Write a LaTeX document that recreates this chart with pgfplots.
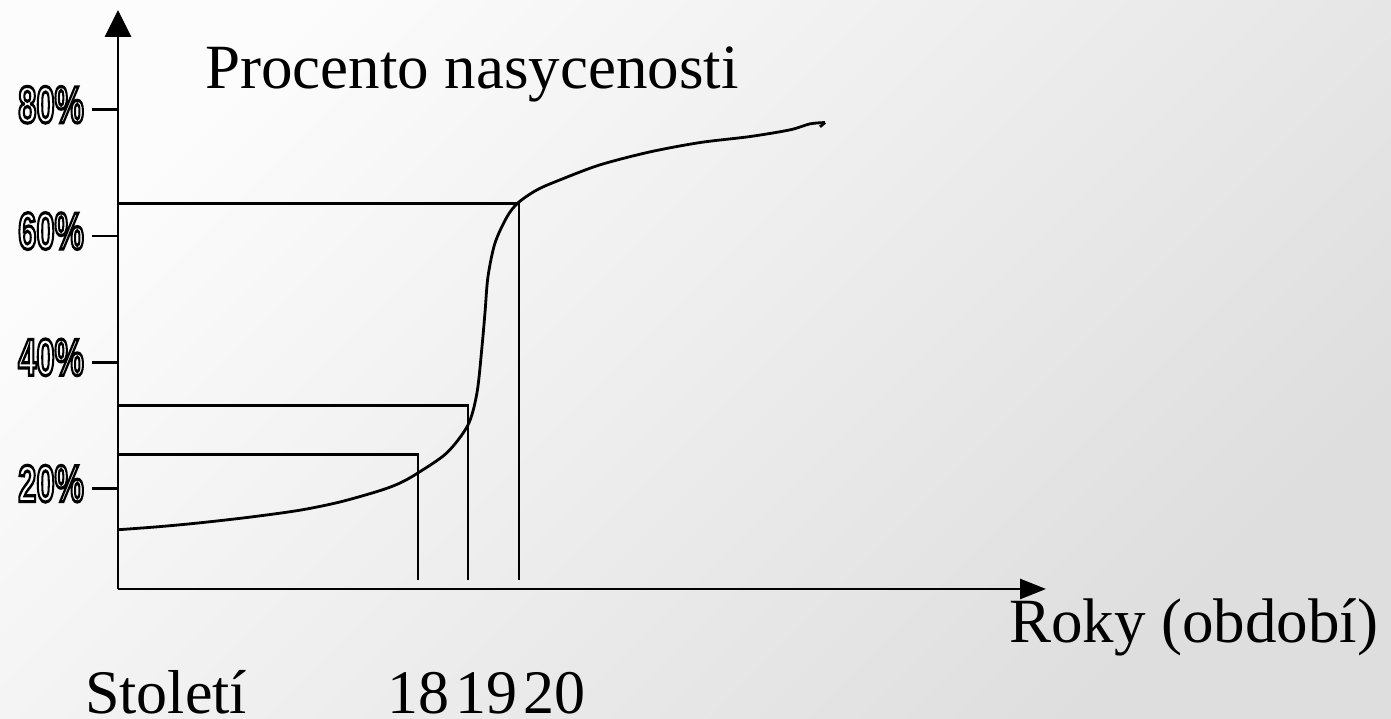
\documentclass[border=0pt]{standalone}
\usepackage{fontspec}
\setmainfont{Liberation Serif}
\newfontfamily\tickfont{Liberation Sans}
\usepackage{graphicx}
\usepackage{xcolor}
\usepackage{pgfplots}
\pgfplotsset{compat=1.18}
\usetikzlibrary{arrows.meta}
\definecolor{bgA}{RGB}{252,252,252}
\definecolor{bgB}{RGB}{222,222,222}
\newcommand\outl[1]{{\color{white}\special{pdf:literal direct 0 G 2 Tr 3.2 w}#1\special{pdf:literal direct 0 Tr}}}
\newcommand\ticklab[1]{\scalebox{0.63}[1]{\outl{\tickfont\bfseries\fontsize{52}{52}\selectfont #1}}}
\begin{document}
\begin{tikzpicture}
\useasboundingbox (-118pt,-130pt) rectangle (1273pt,589pt);
\shade[top color=bgA, bottom color=bgB, shading angle=45] (-118pt,-130pt) rectangle (1273pt,589pt);
\begin{axis}[
  at={(0pt,0pt)}, anchor=south west,
  scale only axis, width=928pt, height=579pt,
  xmin=118, xmax=1046, ymin=4.12, ymax=95.8,
  axis lines=left, clip=false,
  x axis line style={line width=2.8pt, -{Triangle[length=26pt,width=20pt]}},
  y axis line style={line width=2.8pt, -{Triangle[length=27pt,width=26pt]}},
  xtick=\empty,
  ytick={20,40,60,80},
  yticklabels={\ticklab{20\%},\ticklab{40\%},\ticklab{60\%},\ticklab{80\%}},
  tick align=outside, major tick length=26pt,
  tick style={black, line width=2.8pt},
  yticklabel style={anchor=east, inner sep=0pt, xshift=-8pt, yshift=5pt},
]
\addplot[black, line width=2.8pt] coordinates {(118,25.38)(418,25.38)(418,5.59)};
\addplot[black, line width=2.8pt] coordinates {(118,33.15)(468,33.15)(468,5.59)};
\addplot[black, line width=2.8pt] coordinates {(118,65.22)(519,65.22)(519,5.59)};
\addplot[black, line width=2.8pt, smooth] coordinates {
(118,13.5)(160,14.0)(200,14.6)(250,15.5)(300,16.6)(340,17.9)(380,19.7)(400,20.9)(418,22.5)
(447,25.7)(468,30.1)(477,35.2)(482,42.5)(485,47.9)(488,53.6)(495,58.9)(507,63.05)
(518,65.26)(537,67.32)(560,68.90)(600,71.28)(650,73.33)(700,74.81)(750,75.76)
(790,76.82)(810,77.77)(825,77.98)};
\addplot[black, line width=2.8pt] coordinates {(825,77.98)(820,77.30)};
\end{axis}
\node[anchor=base west, inner sep=0pt, font=\fontsize{63}{63}\selectfont] at (87pt,500pt) {Procento nasycenosti};
\node[anchor=base west, inner sep=0pt, font=\fontsize{63}{63}\selectfont] at (891pt,-54pt) {Roky (období)};
\node[anchor=base west, inner sep=0pt, font=\fontsize{62}{62}\selectfont] at (-33pt,-125pt) {Století};
\node[anchor=base west, inner sep=0pt, font=\fontsize{62}{62}\selectfont] at (269pt,-125pt) {18\hspace{6pt}19\hspace{6pt}20};
\end{tikzpicture}
\end{document}
